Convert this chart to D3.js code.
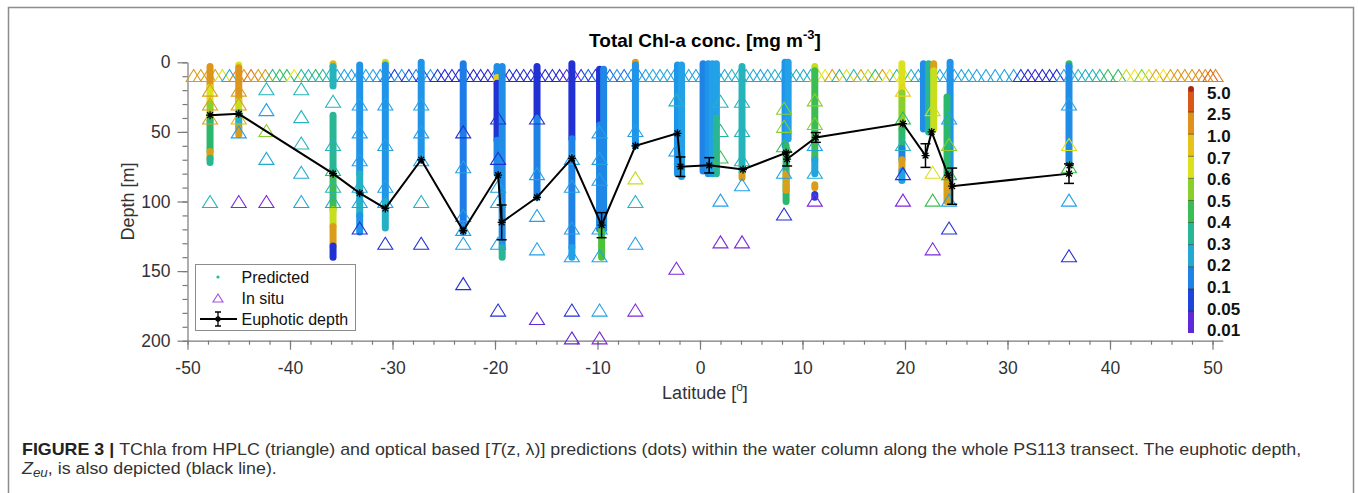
<!DOCTYPE html>
<html>
<head>
<meta charset="utf-8">
<script src="https://cdn.jsdelivr.net/npm/d3@7"></script>
<style>
body { margin: 0; background: #fff; }
svg text { font-family: "Liberation Sans", Arial, Helvetica, sans-serif; }
</style>
</head>
<body>
<svg id="chart" width="1358" height="493"></svg>
<script>
// ---- data ----
const xTickLabels = [-50, -40, -30, -20, -10, 0, 10, 20, 30, 40, 50];
const yTickLabels = [0, 50, 100, 150, 200];
const cbTicks = [0.01, 0.05, 0.1, 0.2, 0.3, 0.4, 0.5, 0.6, 0.7, 1.0, 2.5, 5.0];
const cbLabels = ["0.01", "0.05", "0.1", "0.2", "0.3", "0.4", "0.5", "0.6", "0.7", "1.0", "2.5", "5.0"];
const cbColors = ["#9a2be0", "#2424d0", "#1a64e6", "#22a0e8", "#26b4bc", "#2cb86c",
                  "#4cc23a", "#c6de1e", "#f2e41c", "#d9a01a", "#e8801c", "#c8301a"];

// underway surface samples (triangles in the top row)
const surfLat = [-49.4,-48.7,-48.0,-47.3,-46.6,-45.9,-45.2,-44.5,-43.8,-43.1,-42.4,-41.7,-41.0,-40.3,-39.6,
  -38.9,-38.2,-37.5,-36.8,-36.1,-35.4,-34.7,-34.0,-33.3,-32.6,-31.9,-31.2,-30.5,-29.8,-29.1,-28.4,-27.7,
  -27.0,-26.3,-25.6,-24.9,-24.2,-23.5,-22.8,-22.1,-21.4,-20.7,-20.0,-19.3,-18.6,-17.9,-17.2,-16.5,-15.8,
  -15.1,-14.4,-13.7,-13.0,-12.3,-11.6,-10.9,-10.2,-9.5,-8.8,-8.1,-7.4,-6.7,-6.0,-5.3,-4.6,-3.9,-3.2,-2.5,
  -1.8,-1.1,-0.4,0.3,1.0,1.7,2.4,3.1,3.8,4.5,5.2,5.9,6.6,7.3,8.0,8.7,9.4,10.1,10.8,11.5,12.2,12.9,13.6,
  14.3,15.0,15.7,16.4,17.1,17.8,18.5,19.2,19.9,20.6,21.3,22.0,22.7,23.4,24.1,24.8,25.5,26.2,27.0,27.9,
  28.8,29.7,30.6,31.3,32.0,32.7,33.4,34.1,34.8,35.5,36.2,36.9,37.6,38.3,39.0,39.8,40.8,41.6,42.4,43.1,
  43.8,44.5,45.2,45.9,46.6,47.3,48.0,48.7,49.3,49.8,50.3];
const surfChl = [1.3,1.2,1.3,1.2,0.65,0.25,2.5,1.5,3.0,1.2,1.2,0.35,0.45,0.4,0.7,
  0.35,0.3,0.4,0.35,0.3,0.22,0.2,0.2,0.22,0.2,0.2,0.18,0.12,0.07,0.18,0.07,0.15,
  0.06,0.2,0.06,0.05,0.06,0.05,0.06,0.05,0.06,0.05,0.06,0.05,0.06,0.05,0.06,0.05,0.06,
  0.05,0.06,0.05,0.03,0.02,0.06,0.1,0.07,0.15,0.1,0.18,0.12,0.2,0.15,0.2,0.22,0.2,0.25,0.2,
  0.22,0.25,0.2,0.22,0.2,0.25,0.22,0.3,0.25,0.22,0.25,0.2,0.25,0.3,0.22,0.25,0.3,0.25,0.3,0.6,0.7,1.0,0.35,
  0.65,0.3,1.0,0.6,0.4,1.0,0.7,0.3,0.65,0.3,0.2,0.25,0.3,0.2,0.25,0.2,0.22,0.25,0.2,0.22,
  0.2,0.22,0.2,0.06,0.05,0.04,0.05,0.06,0.05,0.2,0.25,0.3,0.25,0.3,0.35,0.45,0.4,0.6,0.7,0.55,
  0.65,1.0,0.7,1.0,1.2,1.5,1.2,2.5,1.5,3.5,2.5];
const surfDepth = 9.5;

// HPLC profiles: station latitude, sample depths, TChla
const stationLat = [-47.8,-45.0,-42.3,-38.9,-35.8,-33.2,-30.7,-27.2,-23.1,-19.7,-15.9,-12.5,-9.8,-6.3,
  -2.3,2.0,4.1,8.2,11.2,19.8,22.7,24.3,36.0];
const stationDepth = [
  [20,30,40,100],[20,30,40,50,100],[19,34,49,69,100],[19,39,58,79,100],[28,59,77,89,100],
  [30,50,70,89,100,119],[30,59,89,100,130],[30,50,70,100,130],[50,75,110,120,130,159],
  [40,69,89,100,130,178],[40,80,110,134,184],[69,89,119,139,178,198],[50,69,84,119,139,178,198],
  [49,83,100,130,178],[27,63,148],[28,49,68,99,129],[28,49,70,88,129],[33,46,60,79,109],
  [27,44,59,79,99],[20,40,59,80,99],[34,79,99,134],[40,59,80,99,119],[30,59,75,99,139]];
const stationChl = [
  [1.0,1.2,1.0,0.3],[1.0,1.2,0.9,0.2,0.02],[0.3,0.2,0.55,0.25,0.02],[0.3,0.3,0.3,0.25,0.22],
  [0.3,0.3,0.35,0.3,0.25],[0.2,0.2,0.2,0.25,0.2,0.06],[0.2,0.22,0.2,0.2,0.06],[0.22,0.2,0.22,0.3,0.06],
  [0.06,0.2,0.2,0.2,0.2,0.06],[0.06,0.06,0.2,0.22,0.2,0.06],[0.06,0.2,0.2,0.2,0.03],
  [0.2,0.2,0.2,0.2,0.06,0.03],[0.2,0.2,0.2,0.2,0.2,0.2,0.02],[0.2,0.6,0.3,0.2,0.02],[0.3,0.2,0.02],
  [0.3,0.35,0.45,0.2,0.02],[0.3,0.3,0.3,0.2,0.02],[0.55,0.55,0.45,0.2,0.06],[0.55,0.55,0.2,0.25,0.02],
  [0.8,0.4,0.3,0.06,0.02],[0.6,0.65,0.45,0.02],[0.2,0.55,0.4,0.2,0.06],[0.2,0.65,0.45,0.2,0.06]];

// optical predictions, as runs of dots: lat, top depth, bottom depth, TChla
const predRuns = [
  [-47.8,3,18,1.5],[-47.8,18,30,0.65],[-47.8,30,42,0.55],[-47.8,42,64,0.4],[-47.8,64,69,1.0],[-47.8,69,72,0.35],
  [-45.0,2,4,0.65],[-45.0,4,28,1.5],[-45.0,28,36,0.6],[-45.0,36,47,0.3],[-45.0,47,52,1.2],
  [-35.8,1,3,0.9],[-35.8,3,17,0.3],[-35.8,38,82,0.35],[-35.8,82,106,0.45],[-35.8,106,118,0.6],
  [-35.8,118,132,1.2],[-35.8,132,140,0.06],
  [-33.2,2,80,0.18],[-33.2,80,110,0.28],[-33.2,110,122,0.18],
  [-30.7,0,2,0.6],[-30.7,2,100,0.18],[-30.7,100,119,0.28],
  [-27.2,0,70,0.18],
  [-23.1,1,122,0.14],
  [-19.8,3,11,0.17],[-19.8,11,15,0.8],[-19.8,15,56,0.06],[-19.8,56,80,0.16],[-19.3,3,133,0.17],[-19.3,133,140,0.35],
  [-15.9,3,40,0.06],[-15.9,40,97,0.15],
  [-12.5,1,55,0.06],[-12.5,55,133,0.15],[-12.5,133,140,0.2],
  [-9.8,5,45,0.06],[-9.8,45,120,0.16],[-9.4,5,120,0.16],[-9.6,120,140,0.5],
  [-6.3,0,2,1.2],[-6.3,2,60,0.18],
  [-2.2,2,80,0.18],[-1.8,2,82,0.2],
  [0.3,1,78,0.15],[0.8,1,80,0.18],[1.2,1,80,0.2],[1.6,1,40,0.2],[1.6,40,80,0.35],
  [4.1,3,79,0.3],[4.1,81,83,1.2],
  [8.3,0,60,0.18],[8.6,0,55,0.2],[8.4,60,100,0.4],[8.4,80,84,1.0],[8.4,88,92,1.0],
  [11.2,3,6,0.6],[11.2,6,70,0.45],[11.2,70,80,0.22],[11.2,88,90,1.2],[11.2,95,97,0.07],
  [19.7,1,22,0.65],[19.7,22,48,0.55],[19.7,48,62,0.4],[19.7,62,70,0.15],[19.7,70,78,1.0],[19.7,78,85,0.2],
  [21.8,1,48,0.17],[22.3,1,50,0.35],[22.8,1,6,1.0],[22.8,6,48,0.6],
  [24.4,0,100,0.18],[24.1,25,80,0.4],[24.1,82,100,1.0],
  [36.0,1,3,0.4],[36.0,3,72,0.17]];

// euphotic depth with error bars (0 = none)
const zeuLat = [-47.8,-45.0,-35.8,-33.2,-30.7,-27.2,-23.1,-19.7,-19.35,-15.9,-12.5,-9.6,-6.3,-2.2,-1.9,
  0.9,4.2,8.4,8.5,11.3,19.8,22.0,22.6,24.2,24.6,36.0,36.05];
const zeuDepth = [38,37,80,94,105,70,121,81,115,97,69,117,60,51,75,74,77,65,69.5,54,44,67,50,81,89,80,74];
const zeuErr = [0,0,0,0,0,0,0,0,12.5,0,0,9,0,0,7,5.5,0,0,5,3.5,0,8.5,0,0,13,7,0];

// ---- scales ----
const svg = d3.select("#chart");
const x = d3.scaleLinear().domain([-50, 51]).range([187.5, 1222.75]);
const y = d3.scaleLinear().domain([0, 200]).range([62.3, 340.7]);

const chlIndex = d3.scaleLinear().domain(cbTicks).range(d3.range(cbTicks.length)).clamp(true);
const ramp = d3.scaleLinear().domain(d3.range(cbColors.length)).range(cbColors);
const chlColor = v => ramp(chlIndex(v));

const triPath = "M0,-6L7.5,6L-7.5,6Z";
const starPath = s => {
  const k = s * 0.72;
  return `M${-s},0L${s},0M0,${-s}L0,${s}M${-k},${-k}L${k},${k}M${-k},${k}L${k},${-k}`;
};

// figure frame
svg.append("rect")
  .attr("x", 8.5).attr("y", 7.5).attr("width", 1345).attr("height", 500)
  .attr("fill", "none").attr("stroke", "#8c8c8c").attr("stroke-width", 1.5);

// ---- axes ----
const axisColor = "#7a7a7a";
const gx = svg.append("g").attr("transform", "translate(0," + y(200) + ")");
gx.call(d3.axisBottom(x).tickValues(d3.range(-50, 51, 2)).tickSize(4).tickSizeOuter(0).tickFormat(""));
const gx2 = svg.append("g").attr("transform", "translate(0," + y(200) + ")");
gx2.call(d3.axisBottom(x).tickValues(xTickLabels).tickSize(9).tickSizeOuter(0).tickPadding(12)
  .tickFormat(d => String(d)));
gx2.select(".domain").remove();

const gy = svg.append("g").attr("transform", "translate(" + x(-50) + ",0)");
gy.call(d3.axisLeft(y).tickValues(d3.range(0, 201, 10)).tickSize(5).tickSizeOuter(0).tickFormat(""));
const gy2 = svg.append("g").attr("transform", "translate(" + x(-50) + ",0)");
gy2.call(d3.axisLeft(y).tickValues(yTickLabels).tickSize(10).tickSizeOuter(0).tickPadding(7)
  .tickFormat(d => String(d)));
gy2.select(".domain").remove();

svg.selectAll(".domain, .tick line").attr("stroke", axisColor).attr("stroke-width", 1.2);
svg.selectAll(".tick text").attr("fill", "#333").style("font-size", "17.5px")
  .style("font-family", "'Liberation Sans', Arial, sans-serif");

// axis labels
const xl = svg.append("text").attr("x", 705).attr("y", 399).attr("text-anchor", "middle")
  .attr("fill", "#333").style("font-size", "18px");
xl.append("tspan").text("Latitude [");
xl.append("tspan").attr("dy", -8).style("font-size", "12px").text("o");
xl.append("tspan").attr("dy", 8).text("]");

svg.append("text")
  .attr("transform", "translate(134," + y(100) + ")rotate(-90)")
  .attr("text-anchor", "middle").attr("fill", "#333").style("font-size", "18px")
  .text("Depth [m]");

// title
const tt = svg.append("text").attr("x", 705).attr("y", 47).attr("text-anchor", "middle")
  .attr("fill", "#000").style("font-size", "19px").style("font-weight", "bold");
tt.append("tspan").text("Total Chl-a conc. [mg m");
tt.append("tspan").attr("dy", -8).style("font-size", "13px").text("-3");
tt.append("tspan").attr("dy", 8).text("]");

// ---- marks ----
const plot = svg.append("g");

// surface triangles
plot.append("g").selectAll("path")
  .data(surfLat.map((lat, i) => ({lat: lat, chl: surfChl[i]})))
  .join("path")
  .attr("d", triPath)
  .attr("transform", d => "translate(" + x(d.lat) + "," + y(surfDepth) + ")")
  .attr("fill", "none").attr("stroke", d => chlColor(d.chl)).attr("stroke-width", 1.1);

// predicted dots
plot.append("g").selectAll("line")
  .data(predRuns)
  .join("line")
  .attr("x1", d => x(d[0])).attr("x2", d => x(d[0]))
  .attr("y1", d => y(d[1])).attr("y2", d => y(d[2]))
  .attr("stroke", d => chlColor(d[3]))
  .attr("stroke-width", 7).attr("stroke-linecap", "round");

// HPLC profile triangles
const profile = [];
stationLat.forEach((lat, i) => {
  stationDepth[i].forEach((dep, j) => profile.push({lat: lat, depth: dep, chl: stationChl[i][j]}));
});
plot.append("g").selectAll("path")
  .data(profile)
  .join("path")
  .attr("d", triPath)
  .attr("transform", d => "translate(" + x(d.lat) + "," + y(d.depth) + ")")
  .attr("fill", "none").attr("stroke", d => chlColor(d.chl)).attr("stroke-width", 1.1);

// euphotic depth
const zeu = zeuLat.map((lat, i) => ({lat: lat, depth: zeuDepth[i], err: zeuErr[i]}));
plot.append("path")
  .datum(zeu)
  .attr("d", d3.line().x(d => x(d.lat)).y(d => y(d.depth)))
  .attr("fill", "none").attr("stroke", "#000").attr("stroke-width", 2);

const eb = plot.append("g").selectAll("g")
  .data(zeu.filter(d => d.err > 0))
  .join("g")
  .attr("stroke", "#000").attr("stroke-width", 1.5);
eb.append("line")
  .attr("x1", d => x(d.lat)).attr("x2", d => x(d.lat))
  .attr("y1", d => y(d.depth - d.err)).attr("y2", d => y(d.depth + d.err));
eb.append("line")
  .attr("x1", d => x(d.lat) - 5).attr("x2", d => x(d.lat) + 5)
  .attr("y1", d => y(d.depth - d.err)).attr("y2", d => y(d.depth - d.err));
eb.append("line")
  .attr("x1", d => x(d.lat) - 5).attr("x2", d => x(d.lat) + 5)
  .attr("y1", d => y(d.depth + d.err)).attr("y2", d => y(d.depth + d.err));

plot.append("g").selectAll("path")
  .data(zeu)
  .join("path")
  .attr("d", starPath(4))
  .attr("transform", d => "translate(" + x(d.lat) + "," + y(d.depth) + ")")
  .attr("fill", "none").attr("stroke", "#000").attr("stroke-width", 1.3);

// ---- colorbar ----
const cbY = d3.scaleLinear().domain([0, cbTicks.length - 1]).range([333, 90]);
const cbLabelY = d3.scaleLinear().domain([0, cbTicks.length - 1]).range([330, 92.7]);
const cb = svg.append("g");
cb.selectAll("rect")
  .data(d3.range(cbTicks.length - 1))
  .join("rect")
  .attr("x", 1188).attr("width", 6)
  .attr("y", i => cbY(i + 1)).attr("height", i => cbY(i) - cbY(i + 1))
  .attr("fill", i => ramp(i + 0.5));
cb.append("rect").attr("x", 1188).attr("y", 86).attr("width", 6).attr("height", 6).attr("rx", 3)
  .attr("fill", "#a8281a");
cb.selectAll("line")
  .data(d3.range(1, cbTicks.length - 1))
  .join("line")
  .attr("x1", 1188).attr("x2", 1194)
  .attr("y1", i => cbY(i)).attr("y2", i => cbY(i))
  .attr("stroke", "rgba(0,0,0,0.45)").attr("stroke-width", 1);
cb.selectAll("text")
  .data(cbLabels)
  .join("text")
  .attr("x", 1207).attr("y", (d, i) => cbLabelY(i)).attr("dy", "0.36em")
  .attr("fill", "#111").style("font-size", "17px").style("font-weight", "bold")
  .text(d => d);

// ---- legend ----
const lg = svg.append("g");
lg.append("rect").attr("x", 195.5).attr("y", 264.5).attr("width", 160).attr("height", 66)
  .attr("fill", "#fff").attr("stroke", "#8c8c8c").attr("stroke-width", 1);
lg.append("circle").attr("cx", 218).attr("cy", 277).attr("r", 1.6).attr("fill", "#22c08a");
lg.append("path").attr("d", "M0,-4L5,4L-5,4Z").attr("transform", "translate(218,298)")
  .attr("fill", "none").attr("stroke", "#a050e0").attr("stroke-width", 1.1);
lg.append("line").attr("x1", 200).attr("x2", 237).attr("y1", 319).attr("y2", 319)
  .attr("stroke", "#000").attr("stroke-width", 2);
lg.append("path").attr("d", "M218,312L218,326M215,312L221,312M215,326L221,326")
  .attr("stroke", "#000").attr("stroke-width", 1.3);
lg.append("path").attr("d", starPath(3)).attr("transform", "translate(218,319)")
  .attr("stroke", "#000").attr("stroke-width", 1.2);
lg.selectAll("text.lab")
  .data(["Predicted", "In situ", "Euphotic depth"])
  .join("text")
  .attr("x", 241.5).attr("y", (d, i) => 282.5 + i * 21.2)
  .attr("fill", "#111").style("font-size", "16px")
  .text(d => d);

// ---- caption ----
const cap1 = svg.append("text").attr("x", 0).attr("y", 0).attr("fill", "#333").style("font-size", "16px");
cap1.append("tspan").style("font-weight", "bold").attr("fill", "#222").text("FIGURE 3 | ");
cap1.append("tspan").text("TChla from HPLC (triangle) and optical based [");
cap1.append("tspan").style("font-style", "italic").text("T");
cap1.append("tspan").text("(z, \u03bb)] predictions (dots) within the water column along the whole PS113 transect. The euphotic depth,");

const cap2 = svg.append("text").attr("x", 0).attr("y", 0).attr("fill", "#333").style("font-size", "16px");
cap2.append("tspan").style("font-style", "italic").text("Z");
cap2.append("tspan").style("font-style", "italic").style("font-size", "12px").attr("dy", 3).text("eu");
cap2.append("tspan").attr("dy", -3).text(", is also depicted (black line).");

// the printed caption font runs wider than the installed ones, so stretch to the measured line width
const capScale = 1280 / cap1.node().getComputedTextLength();
cap1.attr("transform", "translate(22,454.5)scale(" + capScale + ",1)");
cap2.attr("transform", "translate(22,473.5)scale(" + capScale + ",1)");
</script>
</body>
</html>
